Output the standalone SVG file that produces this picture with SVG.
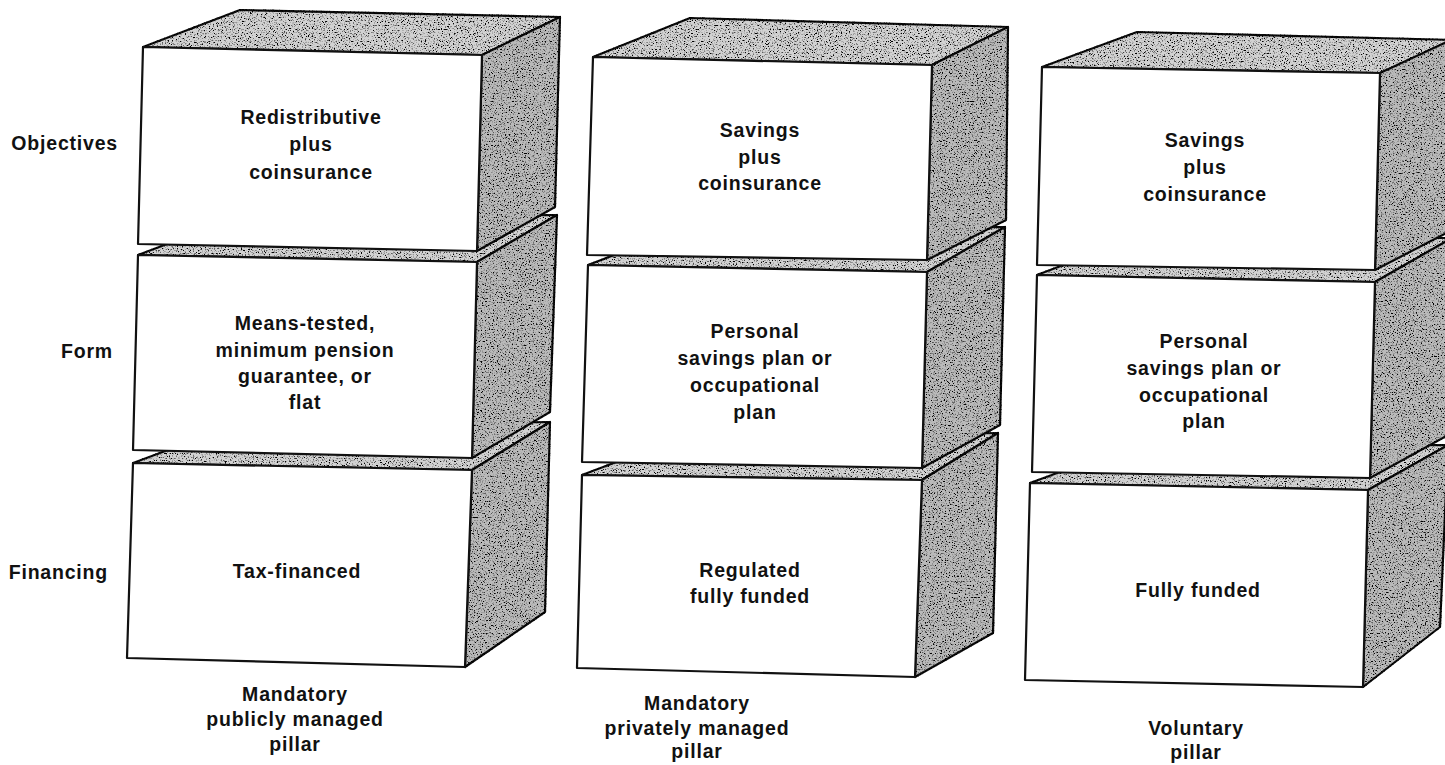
<svg xmlns="http://www.w3.org/2000/svg" width="1445" height="765" viewBox="0 0 1445 765">
<style>
.front{fill:#ffffff;stroke:#111;stroke-width:2.2;stroke-linejoin:round}
.top{fill:#d2d2d2;stroke:#111;stroke-width:2.2;stroke-linejoin:round;filter:url(#grain)}
.side{fill:#bababa;stroke:#111;stroke-width:2.2;stroke-linejoin:round;filter:url(#grain)}
.t{font-family:"Liberation Sans",Arial,sans-serif;font-weight:bold;font-size:19.5px;letter-spacing:0.8px;text-anchor:middle;fill:#111}
.lbl{font-family:"Liberation Sans",Arial,sans-serif;font-weight:bold;font-size:19.5px;letter-spacing:0.8px;text-anchor:end;fill:#111}
</style>
<defs>
<filter id="grain" x="-5%" y="-5%" width="110%" height="110%">
<feTurbulence type="fractalNoise" baseFrequency="0.75" numOctaves="2" seed="7" result="noise"/>
<feColorMatrix in="noise" type="matrix" values="0 0 0 0 0  0 0 0 0 0  0 0 0 0 0  -5 0 0 0 2.45" result="dots"/>
<feComposite in="dots" in2="SourceAlpha" operator="in" result="clipped"/>
<feMerge><feMergeNode in="SourceGraphic"/><feMergeNode in="clipped"/></feMerge>
</filter>
</defs>
<rect width="1445" height="765" fill="#ffffff"/>

<g id="row-labels">
<text class="lbl" x="118" y="150">Objectives</text>
<text class="lbl" x="113" y="358">Form</text>
<text class="lbl" x="108" y="579">Financing</text>
</g>

<!-- Column 1 -->
<g id="public-financing">
<polygon class="top" points="133,463 230,427 550,422 472,470"/>
<polygon class="side" points="472,470 550,422 545,612 465,667"/>
<polygon class="front" points="133,463 472,470 465,667 127,658"/>
<text class="t" x="297" y="578">Tax-financed</text>
</g>
<g id="public-form">
<polygon class="top" points="138,255 236,218 557,215 477,262"/>
<polygon class="side" points="477,262 557,215 550,412 472,458"/>
<polygon class="front" points="138,255 477,262 472,458 133,450"/>
<text class="t" x="305" y="330">Means-tested,</text>
<text class="t" x="305" y="357">minimum pension</text>
<text class="t" x="305" y="383">guarantee, or</text>
<text class="t" x="305" y="409">flat</text>
</g>
<g id="public-objectives">
<polygon class="top" points="143,47 240,10 560,17 482,55"/>
<polygon class="side" points="482,55 560,17 555,207 477,251"/>
<polygon class="front" points="143,47 482,55 477,251 138,244"/>
<text class="t" x="311" y="124">Redistributive</text>
<text class="t" x="311" y="151">plus</text>
<text class="t" x="311" y="179">coinsurance</text>
</g>
<g id="public-pillar-label">
<text class="t" x="295" y="701">Mandatory</text>
<text class="t" x="295" y="726">publicly managed</text>
<text class="t" x="295" y="751">pillar</text>
</g>

<!-- Column 2 -->
<g id="private-financing">
<polygon class="top" points="582,475 680,438 998,433 922,480"/>
<polygon class="side" points="922,480 998,433 993,633 915,677"/>
<polygon class="front" points="582,475 922,480 915,677 577,668"/>
<text class="t" x="750" y="577">Regulated</text>
<text class="t" x="750" y="603">fully funded</text>
</g>
<g id="private-form">
<polygon class="top" points="588,265 685,228 1005,227 927,272"/>
<polygon class="side" points="927,272 1005,227 1000,425 922,468"/>
<polygon class="front" points="588,265 927,272 922,468 582,462"/>
<text class="t" x="755" y="338">Personal</text>
<text class="t" x="755" y="365">savings plan or</text>
<text class="t" x="755" y="392">occupational</text>
<text class="t" x="755" y="419">plan</text>
</g>
<g id="private-objectives">
<polygon class="top" points="593,57 690,18 1008,27 932,65"/>
<polygon class="side" points="932,65 1008,27 1006,220 927,260"/>
<polygon class="front" points="593,57 932,65 927,260 587,255"/>
<text class="t" x="760" y="137">Savings</text>
<text class="t" x="760" y="164">plus</text>
<text class="t" x="760" y="190">coinsurance</text>
</g>
<g id="private-pillar-label">
<text class="t" x="697" y="710">Mandatory</text>
<text class="t" x="697" y="735">privately managed</text>
<text class="t" x="697" y="758">pillar</text>
</g>

<!-- Column 3 -->
<g id="voluntary-financing">
<polygon class="top" points="1030,483 1128,447 1448,445 1368,490"/>
<polygon class="side" points="1368,490 1448,445 1440,627 1363,687"/>
<polygon class="front" points="1030,483 1368,490 1363,687 1025,680"/>
<text class="t" x="1198" y="597">Fully funded</text>
</g>
<g id="voluntary-form">
<polygon class="top" points="1037,275 1135,238 1452,238 1375,282"/>
<polygon class="side" points="1375,282 1452,238 1448,435 1370,478"/>
<polygon class="front" points="1037,275 1375,282 1370,478 1032,472"/>
<text class="t" x="1204" y="348">Personal</text>
<text class="t" x="1204" y="375">savings plan or</text>
<text class="t" x="1204" y="402">occupational</text>
<text class="t" x="1204" y="428">plan</text>
</g>
<g id="voluntary-objectives">
<polygon class="top" points="1042,67 1137,32 1455,40 1380,73"/>
<polygon class="side" points="1380,73 1455,38 1452,230 1375,270"/>
<polygon class="front" points="1042,67 1380,73 1375,270 1037,265"/>
<text class="t" x="1205" y="147">Savings</text>
<text class="t" x="1205" y="174">plus</text>
<text class="t" x="1205" y="201">coinsurance</text>
</g>
<g id="voluntary-pillar-label">
<text class="t" x="1196" y="735">Voluntary</text>
<text class="t" x="1196" y="759">pillar</text>
</g>
</svg>
